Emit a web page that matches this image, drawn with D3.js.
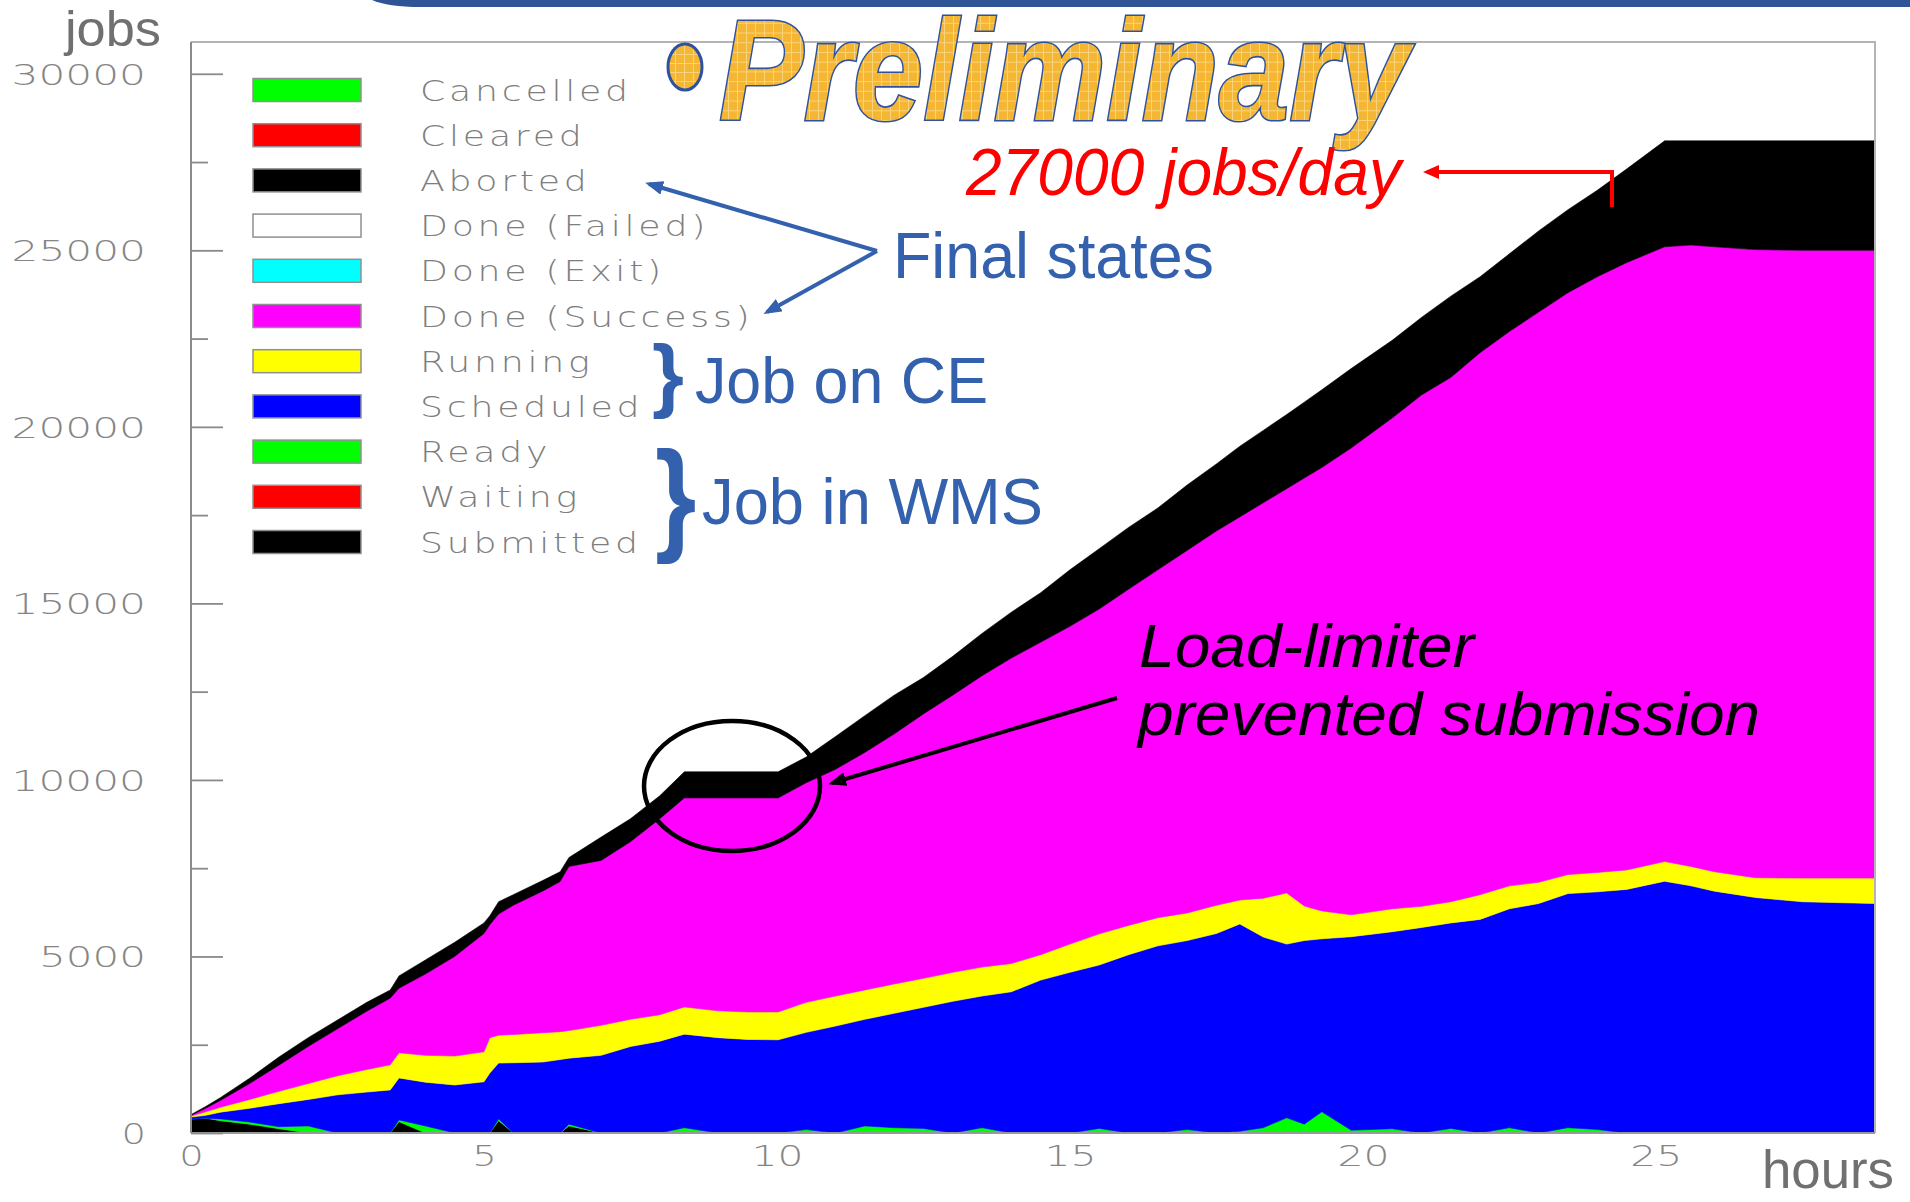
<!DOCTYPE html>
<html>
<head>
<meta charset="utf-8">
<script src="https://cdn.jsdelivr.net/npm/d3@7"></script>
<style>
  html, body { margin: 0; padding: 0; background: #fff; }
  svg { display: block; }
</style>
</head>
<body>
<div id="chart"></div>
<script>
// sample times (hours since start)
const hours = [0, 0.25, 0.5, 1, 1.5, 2, 2.5, 3, 3.4, 3.55, 4, 4.5, 5, 5.1, 5.25, 5.5, 6, 6.3, 6.45, 7,
  7.5, 8, 8.42, 9, 9.5, 10.02, 10.5, 11, 11.5, 12, 12.5, 13, 13.5, 14, 14.5, 15, 15.5, 16, 16.5, 17,
  17.5, 17.9, 18.3, 18.7, 19.0, 19.3, 19.8, 20.5, 21, 21.5, 22, 22.5, 23, 23.5, 24, 24.5, 25.15, 25.6,
  26, 26.7, 27.5, 28.74];

// jobs per state at each sample time
const submitted = [400, 420, 350, 250, 120, 0, 0, 0, 0, 320, 0, 0, 0, 0, 350, 0, 0, 0, 200, 0,
  0, 0, 0, 0, 0, 0, 0, 0, 0, 0, 0, 0, 0, 0, 0, 0, 0, 0, 0, 0,
  0, 0, 0, 0, 0, 0, 0, 0, 0, 0, 0, 0, 0, 0, 0, 0, 0, 0, 0, 0, 0, 0];
const ready = [0, 0, 50, 60, 60, 200, 0, 0, 0, 50, 200, 0, 0, 0, 50, 0, 0, 0, 50, 0,
  0, 0, 150, 0, 0, 0, 100, 0, 200, 150, 130, 0, 150, 0, 0, 0, 130, 0, 0, 100,
  0, 50, 150, 430, 250, 600, 80, 120, 0, 130, 0, 150, 0, 150, 100, 0, 0, 0, 0, 0, 0, 0];
const scheduled = [50, 80, 190, 390, 650, 750, 1080, 1160, 1220, 1190, 1240, 1360, 1450, 1700, 1580, 1990, 2010, 2080, 1870, 2200,
  2450, 2600, 2650, 2700, 2650, 2640, 2750, 3030, 3020, 3240, 3430, 3730, 3730, 4000, 4330, 4550, 4630, 5050, 5300, 5350,
  5650, 5870, 5400, 4920, 5200, 4900, 5480, 5580, 5820, 5820, 6050, 6200, 6500, 6630, 6730, 6900, 7130, 7000, 6850, 6670, 6550, 6500];
const running = [30, 100, 140, 250, 350, 450, 540, 640, 710, 710, 760, 820, 850, 1000, 790, 800, 830, 790, 780, 850,
  770, 750, 770, 760, 780, 790, 850, 850, 830, 830, 820, 820, 820, 800, 720, 800, 880, 830, 800, 780,
  800, 680, 1100, 1450, 980, 790, 620, 650, 600, 600, 700, 650, 600, 540, 550, 550, 560, 550, 550, 560, 670, 720];
const doneSuccess = [20, 100, 190, 450, 740, 1050, 1330, 1650, 1890, 1830, 2300, 2820, 3350, 3200, 3430, 3660, 4010, 4250, 4650, 4670,
  5030, 5550, 5920, 6030, 6060, 6060, 6220, 6420, 6730, 7080, 7490, 7850, 8250, 8650, 8850, 9000, 9200, 9520, 9850, 10270,
  10600, 10850, 11200, 11450, 12120, 12560, 13220, 13900, 14480, 14850, 15350, 15700, 16150, 16480, 16870, 17200, 17410, 17600, 17700, 17790, 17780, 17780];
const aborted = [20, 50, 80, 150, 230, 250, 250, 250, 230, 350, 400, 400, 300, 250, 350, 300, 300, 280, 250, 660,
  650, 650, 740, 740, 740, 740, 730, 930, 1040, 1100, 1030, 1100, 1200, 1300, 1400, 1600, 1710, 1750, 1750, 1850,
  1900, 2000, 2050, 2100, 2150, 2200, 2250, 2200, 2200, 2300, 2150, 2200, 2300, 2350, 2450, 2650, 3000, 2950, 3000, 3080, 3100, 3100];

// legend order, top to bottom (stacked bottom-up in reverse)
const states = ["Cancelled", "Cleared", "Aborted", "Done (Failed)", "Done (Exit)", "Done (Success)",
  "Running", "Scheduled", "Ready", "Waiting", "Submitted"];
const stateColors = ["#00ff00", "#ff0000", "#000000", "#ffffff", "#00ffff", "#ff00ff",
  "#ffff00", "#0000ff", "#00ff00", "#ff0000", "#000000"];

const yMajorTicks = [0, 5000, 10000, 15000, 20000, 25000, 30000];
const yMinorTicks = [2500, 7500, 12500, 17500, 22500, 27500];
const xTicks = [0, 5, 10, 15, 20, 25];

const seriesByState = {
  "Submitted": submitted, "Ready": ready, "Scheduled": scheduled,
  "Running": running, "Done (Success)": doneSuccess, "Aborted": aborted
};

const W = 1910, H = 1202;
const svg = d3.select("#chart").append("svg")
  .attr("width", W).attr("height", H)
  .attr("viewBox", [0, 0, W, H])
  .style("background", "#fff");

const x = d3.scaleLinear().domain([0, 28.74]).range([191, 1875]);
const y = d3.scaleLinear().domain([0, 30900]).range([1133, 42]);

// stacked areas
const table = hours.map((h, i) => {
  const row = { hours: h };
  states.forEach(s => row[s] = seriesByState[s] ? seriesByState[s][i] : 0);
  return row;
});
const stack = d3.stack().keys(states.slice().reverse());
const layers = stack(table).filter(l => d3.max(l, d => d[1] - d[0]) > 0);
const colorOf = d3.scaleOrdinal().domain(states).range(stateColors);

const area = d3.area()
  .x(d => x(d.data.hours))
  .y0(d => y(d[0]))
  .y1(d => y(d[1]));

svg.append("g").attr("class", "areas")
  .selectAll("path").data(layers).join("path")
  .attr("d", area)
  .attr("fill", d => colorOf(d.key))
  .attr("stroke", d => colorOf(d.key))
  .attr("stroke-width", 0.6);

// frame
svg.append("path")
  .attr("d", `M191,42H1875V1133`)
  .attr("fill", "none").attr("stroke", "#b4b4b4").attr("stroke-width", 2);
svg.append("line")
  .attr("x1", 191).attr("x2", 1875).attr("y1", 1133).attr("y2", 1133)
  .attr("stroke", "#999").attr("stroke-width", 2);
svg.append("line")
  .attr("x1", 191).attr("x2", 191).attr("y1", 42).attr("y2", 1133)
  .attr("stroke", "#8a8a8a").attr("stroke-width", 2);

const tickFont = sel => sel
  .attr("font-family", "DejaVu Sans, sans-serif")
  .attr("font-weight", 200)
  .attr("font-size", 29)
  .attr("fill", "#858585")
  .attr("lengthAdjust", "spacingAndGlyphs")
  .attr("textLength", function() { return this.textContent.length * 27.5 - 3; });

// y axis: major ticks with labels, minor ticks without
const yMajor = svg.append("g").attr("transform", "translate(191,0)")
  .call(d3.axisLeft(y).tickValues(yMajorTicks).tickFormat(d3.format("d"))
    .tickSizeInner(-32).tickSizeOuter(0).tickPadding(45));
yMajor.select(".domain").remove();
yMajor.selectAll("line").attr("stroke", "#8a8a8a").attr("stroke-width", 1.8);
yMajor.selectAll("text").attr("dy", "0.36em").call(tickFont);

const yMinor = svg.append("g").attr("transform", "translate(191,0)")
  .call(d3.axisLeft(y).tickValues(yMinorTicks).tickFormat("")
    .tickSizeInner(-17).tickSizeOuter(0));
yMinor.select(".domain").remove();
yMinor.selectAll("line").attr("stroke", "#8a8a8a").attr("stroke-width", 1.8);

const xAxis = svg.append("g").attr("transform", "translate(0,1133)")
  .call(d3.axisBottom(x).tickValues(xTicks).tickSize(0).tickPadding(12));
xAxis.select(".domain").remove();
xAxis.selectAll("text").call(tickFont);

// axis titles
svg.append("text").attr("x", 65).attr("y", 46).text("jobs")
  .attr("font-family", "Liberation Sans, Arial, sans-serif").attr("font-size", 50)
  .attr("fill", "#707070").attr("textLength", 96).attr("lengthAdjust", "spacingAndGlyphs");
svg.append("text").attr("x", 1762).attr("y", 1188).text("hours")
  .attr("font-family", "Liberation Sans, Arial, sans-serif").attr("font-size", 54)
  .attr("fill", "#707070").attr("textLength", 132).attr("lengthAdjust", "spacingAndGlyphs");

// legend
const legend = svg.append("g").attr("class", "legend")
  .selectAll("g").data(states).join("g")
  .attr("transform", (d, i) => `translate(0,${90 + i * 45.2})`);
legend.append("rect")
  .attr("x", 253).attr("y", -11.5).attr("width", 108).attr("height", 23)
  .attr("fill", d => colorOf(d)).attr("stroke", "#909090").attr("stroke-width", 1.5);
legend.append("text")
  .attr("transform", "translate(420,10.5) scale(1.25,1)").text(d => d)
  .attr("font-family", "DejaVu Sans, sans-serif").attr("font-weight", 200)
  .attr("font-size", 29).attr("letter-spacing", 3).attr("fill", "#7e7e7e");

// slide decorations
const defs = svg.append("defs");
const pat = defs.append("pattern").attr("id", "goldgrid")
  .attr("width", 9).attr("height", 9).attr("patternUnits", "userSpaceOnUse");
pat.append("rect").attr("width", 9).attr("height", 9).attr("fill", "#f5b733");
pat.append("path").attr("d", "M0,0.5H9M0.5,0V9").attr("stroke", "#f9d47a").attr("stroke-width", 1);

const addMarker = (id, color, len, half) => defs.append("marker")
  .attr("id", id).attr("markerUnits", "userSpaceOnUse")
  .attr("viewBox", `0 ${-half} ${len} ${half * 2}`)
  .attr("refX", len - 4).attr("refY", 0)
  .attr("markerWidth", len).attr("markerHeight", half * 2)
  .attr("orient", "auto")
  .append("path").attr("d", `M0,${-half}L${len},0L0,${half}Z`).attr("fill", color);
addMarker("arrowRed", "#ff0000", 16, 7);
addMarker("arrowBlue", "#3461ae", 18, 7);
addMarker("arrowBlack", "#000", 18, 7);

svg.append("path")
  .attr("d", "M372,0H1910V7H420Q388,7 372,0Z")
  .attr("fill", "#2f5597");

svg.append("ellipse").attr("cx", 685).attr("cy", 67).attr("rx", 17).attr("ry", 23)
  .attr("fill", "url(#goldgrid)").attr("stroke", "#2e52a0").attr("stroke-width", 3);
svg.append("text").attr("transform", "translate(719,120) scale(1,1.08)").text("Preliminary")
  .attr("font-family", "Liberation Sans Narrow, Arial Narrow, Liberation Sans, sans-serif")
  .attr("font-weight", "bold").attr("font-style", "italic").attr("font-size", 132)
  .attr("textLength", 690).attr("lengthAdjust", "spacingAndGlyphs")
  .attr("fill", "url(#goldgrid)").attr("stroke", "#2e52a0").attr("stroke-width", 3)
  .attr("paint-order", "stroke");

svg.append("text").attr("x", 966).attr("y", 195).text("27000 jobs/day")
  .attr("font-family", "Liberation Sans, Arial, sans-serif").attr("font-style", "italic")
  .attr("font-size", 67).attr("fill", "#ff0000")
  .attr("textLength", 435).attr("lengthAdjust", "spacingAndGlyphs");
svg.append("path").attr("d", "M1612,207V172H1427")
  .attr("fill", "none").attr("stroke", "#ff0000").attr("stroke-width", 4)
  .attr("marker-end", "url(#arrowRed)");

const blue = "#3461ae";
svg.append("text").attr("x", 893).attr("y", 278).text("Final states")
  .attr("font-family", "Liberation Sans, Arial, sans-serif").attr("font-size", 65)
  .attr("fill", blue).attr("textLength", 321).attr("lengthAdjust", "spacingAndGlyphs");
svg.append("path").attr("d", "M877,251L649,184")
  .attr("stroke", blue).attr("stroke-width", 4).attr("marker-end", "url(#arrowBlue)");
svg.append("path").attr("d", "M877,251L767,312")
  .attr("stroke", blue).attr("stroke-width", 4).attr("marker-end", "url(#arrowBlue)");

const braceFont = sel => sel
  .attr("font-family", "Liberation Sans, Arial, sans-serif").attr("font-weight", "bold")
  .attr("fill", blue);
svg.append("text").attr("x", 652).attr("y", 402).text("}")
  .attr("font-size", 82).call(braceFont);
svg.append("text").attr("x", 695).attr("y", 403).text("Job on CE")
  .attr("font-family", "Liberation Sans, Arial, sans-serif").attr("font-size", 64)
  .attr("fill", blue).attr("textLength", 293).attr("lengthAdjust", "spacingAndGlyphs");
svg.append("text").attr("transform", "translate(655,538) scale(0.85,1)").text("}")
  .attr("font-size", 125).call(braceFont);
svg.append("text").attr("x", 702).attr("y", 524).text("Job in WMS")
  .attr("font-family", "Liberation Sans, Arial, sans-serif").attr("font-size", 64)
  .attr("fill", blue).attr("textLength", 341).attr("lengthAdjust", "spacingAndGlyphs");

// load-limiter note
svg.append("ellipse").attr("cx", 732).attr("cy", 786).attr("rx", 88).attr("ry", 65)
  .attr("fill", "none").attr("stroke", "#000").attr("stroke-width", 4.5);
svg.append("path").attr("d", "M1117,698L832,783")
  .attr("stroke", "#000").attr("stroke-width", 4).attr("marker-end", "url(#arrowBlack)");
svg.append("text").attr("x", 1139).attr("y", 667).text("Load-limiter")
  .attr("font-family", "Liberation Sans, Arial, sans-serif").attr("font-style", "italic")
  .attr("font-size", 62).attr("fill", "#000")
  .attr("textLength", 335).attr("lengthAdjust", "spacingAndGlyphs");
svg.append("text").attr("x", 1138).attr("y", 735).text("prevented submission")
  .attr("font-family", "Liberation Sans, Arial, sans-serif").attr("font-style", "italic")
  .attr("font-size", 62).attr("fill", "#000")
  .attr("textLength", 622).attr("lengthAdjust", "spacingAndGlyphs");
</script>
</body>
</html>
